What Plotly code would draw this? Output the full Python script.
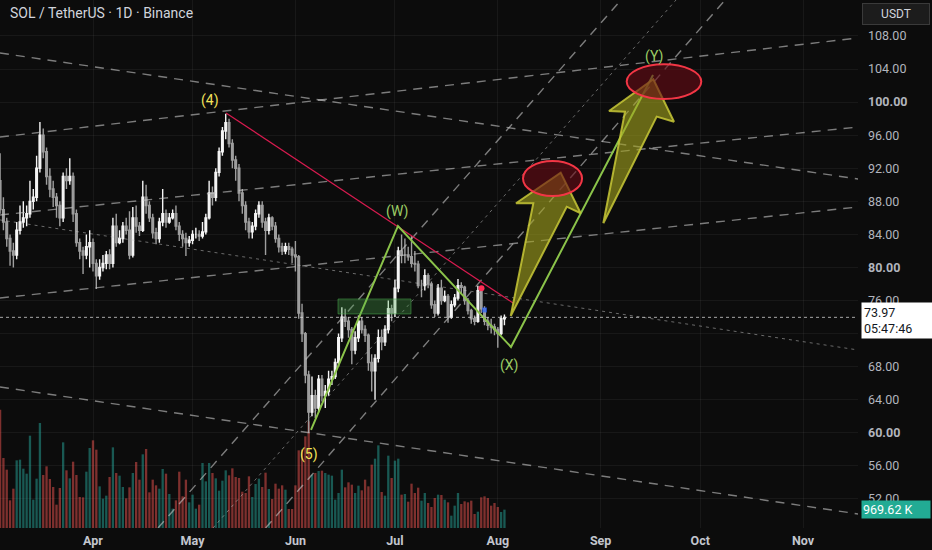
import pandas as pd
import plotly.graph_objects as go

# ---------------- data ----------------
dates = pd.date_range("2025-03-04", "2025-08-03", freq="D")

opens = [
    # Mar 4-31
    90.5, 87, 85.5, 83.5, 82, 81.5, 84.5, 85.5, 86, 86.5, 88, 88.5, 92, 96, 94, 91, 89.5, 88.5, 87.5, 86,
    91, 90.5, 91, 86.5, 83, 82, 81.5, 82.5,
    # Apr
    83, 80.5, 79, 80, 80.5, 81.5, 80.5, 85, 83, 83.5, 85, 84.5, 81.5, 86, 85, 84.5, 88.5, 87.5, 86, 84.2,
    83.5, 85.5, 86.5, 85.5, 86, 86.5, 85, 84, 83.5, 83,
    # May
    83.3, 84, 84, 83.8, 84.3, 86, 89, 88.5, 91.5, 94, 96.5, 97.5, 95, 93, 92, 89, 87.5, 85.5, 84.3, 85,
    86.5, 87.5, 85.5, 84.5, 86, 85, 83.5, 82.5, 82, 82.5, 82.2,
    # Jun
    81.5, 81.3, 74.5, 72, 67, 62.5, 64.5, 63, 66.5, 64.5, 65, 66.5, 66.8, 68.5, 71.5, 74, 73.5, 72.5, 70, 71.5,
    73.5, 72.5, 71.8, 68.5, 67.5, 69, 71.5, 71, 72.5, 75,
    # Jul
    74.5, 77.5, 82, 81.5, 81.5, 81.3, 80.5, 80.4, 77.8, 77.8, 79, 78, 75.5, 74.5, 77.5, 76, 76.5, 74, 75.5, 76.3,
    77.8, 77.6, 76, 74.8, 73.8, 73.5, 77.2, 75, 73.5, 73, 72.8,
    # Aug
    72.5, 72, 73.8,
]
closes = [
    87, 85.5, 83.5, 82, 81.5, 84.5, 85.5, 86, 86.5, 88, 88.5, 92, 96, 94, 91, 89.5, 88.5, 87.5, 86, 91,
    90.5, 91, 86.5, 83, 82, 81.5, 82.5, 83,
    80.5, 79, 80, 80.5, 81.5, 80.5, 85, 83, 83.5, 85, 84.5, 81.5, 86, 85, 84.5, 88.5, 87.5, 86, 84.2, 83.5,
    85.5, 86.5, 85.5, 86, 86.5, 85, 84, 83.5, 83, 83.3,
    84, 84, 83.8, 84.3, 86, 89, 88.5, 91.5, 94, 96.5, 97.5, 95, 93, 92, 89, 87.5, 85.5, 84.3, 85, 86.5,
    87.5, 85.5, 84.5, 86, 85, 83.5, 82.5, 82, 82.5, 82.2, 81.5,
    81.3, 74.5, 72, 67, 62.5, 64.5, 63, 66.5, 64.5, 65, 66.5, 66.8, 68.5, 71.5, 74, 73.5, 72.5, 70, 71.5, 73.5,
    72.5, 71.8, 68.5, 67.5, 69, 71.5, 71, 72.5, 75, 74.5,
    77.5, 82, 81.5, 81.5, 81.3, 80.5, 80.4, 77.8, 77.8, 79, 78, 75.5, 74.5, 77.5, 76, 76.5, 74, 75.5, 76.3, 77.8,
    77.6, 76, 74.8, 73.8, 73.5, 77.2, 75, 73.5, 73, 72.8, 72.5,
    72, 73.8, 73.97,
]
highs = [
    93.8, 88.5, 86, 84, 83, 85.5, 87.5, 88, 87.5, 90.5, 89.5, 93.5, 97.6, 96.8, 94.5, 92, 90.5, 89, 88, 91.5,
    92, 93.2, 91.5, 87, 83.5, 82.5, 84, 84.5,
    83.5, 81, 81, 81.5, 82, 82.2, 86, 86.5, 84.5, 85.5, 86, 86.8, 87.3, 87.5, 85.5, 90.5, 90, 88, 86.5, 84.8,
    86, 89.5, 87, 86.6, 87, 87.5, 85.5, 84.5, 84.2, 83.8,
    84.5, 84.8, 84.5, 85.5, 86.5, 90.5, 89.8, 92, 94.5, 97, 98.6, 98, 95.5, 93.5, 92.5, 89.5, 88, 86, 85.5, 87,
    88, 88, 86, 86.5, 86.2, 85.5, 84, 83, 83, 83, 82.5,
    83.2, 81.5, 75.6, 72.2, 67.5, 66.8, 65.2, 67, 67, 65.8, 67.5, 67.5, 69, 72, 75.2, 75, 74, 72.8, 72.3, 74.2,
    74, 73, 72, 69.5, 69.5, 72.5, 72.5, 73, 76, 75.5,
    78.5, 82.5, 84, 83.5, 82.5, 83.8, 82, 80.8, 78.5, 79.8, 79.3, 78.3, 76, 78, 78.5, 77.2, 76.8, 76, 76.8, 78.6,
    78.2, 77.8, 76.3, 75, 74.2, 77.8, 77.4, 75.3, 74, 73.8, 73.2,
    72.8, 74.2, 74.3,
]
lows = [
    86.5, 84.5, 82.5, 80.2, 80, 81, 84, 84.8, 85, 86, 87, 88, 91.5, 93.2, 90, 88.5, 87.3, 86, 85, 85.5,
    89.5, 90, 85.5, 82.5, 81, 79.2, 81, 80,
    79.5, 77.4, 78.5, 79.5, 79.8, 79.8, 80, 82.5, 82.8, 83, 84, 81, 81.2, 84.2, 83.8, 84.3, 86.5, 85.5, 83.5, 82.8,
    83, 85, 84.8, 85.3, 85.8, 84.5, 83.2, 82.5, 81.4, 82.5,
    82.8, 83.5, 83.2, 83.5, 84, 85.8, 87.5, 88, 91, 93.5, 95.5, 94.5, 92, 90.5, 88, 86.5, 84.5, 83.5, 83.5, 84.5,
    86, 84.8, 81.5, 84, 84.5, 83, 81.8, 81.5, 81.6, 81.5, 80.5,
    79.5, 73.8, 71, 66, 60, 62, 61.8, 62.5, 63.8, 63, 64.5, 65.8, 66.5, 68, 71, 72.8, 71.5, 68.3, 69.5, 71,
    72, 71, 67.5, 65, 64, 68.5, 70, 70.5, 72, 73.5,
    74, 77, 80.5, 80.5, 80.8, 80, 79.5, 77.5, 76.4, 77.2, 77.5, 75, 74, 74.2, 75.5, 75.8, 73.3, 73.8, 75.2, 76,
    76.8, 75.5, 74.3, 73.2, 73, 73.3, 74.5, 73, 72.4, 72, 71.8,
    70.3, 71.8, 73,
]
# volume, thousands of SOL
volumes_k = [
    6248, 3696, 3080, 1461, 2077, 3573, 3608, 3133, 2869, 4875,
    1496, 2605, 5544, 2798, 3256, 2587, 2165, 1232, 2112, 4523,
    3045, 2622, 3502, 2798, 1637, 1619, 2974, 4224, 4629, 4136,
    2200, 1549, 1707, 2693, 4259, 2904, 2763, 2165, 1566, 2147,
    2904, 3485, 2552, 3890, 4171, 1883, 2552, 2253, 2077, 3115,
    2869, 1795, 1021, 1461, 2974, 1672, 2552, 1355, 1760, 1021,
    1232, 3432, 2464, 3432, 2904, 2622, 1971, 2499, 3045, 2781,
    3150, 2693, 2640, 1918, 1848, 2728, 1637, 2323, 2605, 2165, 2922,
    2059, 1531, 2341, 2077, 2253, 2024, 1003, 1003, 2253, 4101,
    4136, 4840, 5632, 2816, 2904, 3010, 3027, 2904, 2816, 2763,
    1496, 1848, 3080, 2147, 2411, 2288, 1848, 2235, 1989, 2552,
    2200, 3344, 3661, 4365, 1901, 1707, 3819, 2640, 3555, 3661,
    1760, 1795, 1390, 2341, 1848, 2130, 1443, 1848, 1320, 1109,
    1584, 1760, 1742, 1496, 1355, 651, 1179, 1848, 1267, 1408,
    1355, 1443, 739, 862, 1619, 1672, 1584, 1179, 1320, 1109, 845, 969.62,
]
last_price = 73.97
countdown = "05:47:46"

price_ticks = [52, 56, 60, 64, 68, 72, 76, 80, 84, 88, 92, 96, 100, 104, 108]
bold_ticks = [60, 80, 100]
month_ticks = ["2025-04-01", "2025-05-01", "2025-06-01", "2025-07-01",
               "2025-08-01", "2025-09-01", "2025-10-01", "2025-11-01"]
month_labels = ["Apr", "May", "Jun", "Jul", "Aug", "Sep", "Oct", "Nov"]

# ---------------- drawings (anchors in date / price) ----------------
wide_dashed = [
    [("2025-03-03 23:00", 105.94), ("2025-11-17 14:00", 90.70)],
    [("2025-03-03 23:00", 95.78), ("2025-11-17 14:00", 107.76)],
    [("2025-03-03 23:00", 86.35), ("2025-11-17 14:00", 96.99)],
    [("2025-03-03 23:00", 76.31), ("2025-11-17 14:00", 87.32)],
    [("2025-03-03 23:00", 65.55), ("2025-11-17 14:00", 50.19)],
    [("2025-04-20 14:00", 48.49), ("2025-09-07 03:00", 112.35)],
    [("2025-05-23 00:30", 48.49), ("2025-10-08 12:00", 112.35)],
]
fine_dashed = [
    [("2025-03-03 23:00", 85.75), ("2025-11-17 14:00", 70.02)],
    [("2025-05-07 04:00", 48.49), ("2025-09-23 17:00", 112.35)],
]
red_line = [("2025-05-11 02:00", 98.69), ("2025-08-05 14:00", 75.71)]
wave_path = [("2025-06-05 17:00", 60.35), ("2025-07-01 22:00", 85.02),
             ("2025-08-04 23:30", 70.39), ("2025-09-16 18:40", 103.28)]
zone_box = [("2025-06-13 20:10", 74.38), ("2025-07-05 20:10", 76.19)]
arrow_1 = [("2025-08-04 21:20", 74.13), ("2025-08-11 16:50", 87.77), ("2025-08-06 11:45", 87.77),
           ("2025-08-19 23:00", 91.47), ("2025-08-25 23:45", 86.56), ("2025-08-21 18:30", 87.35),
           ("2025-08-04 21:20", 74.13)]
arrow_2 = [("2025-09-01 19:10", 85.35), ("2025-09-08 08:10", 98.84), ("2025-09-03 12:30", 98.93),
           ("2025-09-16 21:00", 102.76), ("2025-09-23 02:40", 97.63), ("2025-09-17 21:20", 98.24),
           ("2025-09-01 19:10", 85.35)]
target_ellipses = [[("2025-08-08 14:20", 88.65), ("2025-08-26 09:30", 92.88)],
                   [("2025-09-08 20:20", 100.38), ("2025-10-01 08:00", 104.58)]]
wave_labels = [("(4)", "2025-05-06 06:00", 100.14, "#f2e35a"),
               ("(5)", "2025-06-05 02:00", 57.32, "#f2e35a"),
               ("(W)", "2025-07-01 14:00", 86.83, "#9ccc65"),
               ("(X)", "2025-08-04 09:30", 68.09, "#9ccc65"),
               ("(Y)", "2025-09-17 02:00", 105.46, "#9ccc65")]
red_mark = ("2025-07-27 02:00", 77.48)
blue_mark = ("2025-07-28 00:00", 74.86)

X_RANGE = ["2025-03-03 23:17", "2025-11-17 13:26"]
P_RANGE = [48.49, 112.35]
V_RANGE = [0, 27880]

BG = "#0c0c0c"
GRID = "rgba(255,255,255,0.05)"
TXT = "#b2b5be"

fig = go.Figure()

# volume (primary y, hidden)
vol_colors = ["rgba(38,166,154,0.5)" if c >= o else "rgba(239,83,80,0.5)"
              for o, c in zip(opens, closes)]
fig.add_trace(go.Bar(x=dates, y=volumes_k, marker_color=vol_colors, marker_line_width=0,
                     yaxis="y", hoverinfo="skip"))


def seg(pts):
    return [p[0] for p in pts], [p[1] for p in pts]


for pts in wide_dashed:
    xs, ys = seg(pts)
    fig.add_trace(go.Scatter(x=xs, y=ys, mode="lines", yaxis="y2", hoverinfo="skip",
                             line=dict(color="rgba(200,200,200,0.6)", width=1.4, dash="9px,7px")))
for pts in fine_dashed:
    xs, ys = seg(pts)
    fig.add_trace(go.Scatter(x=xs, y=ys, mode="lines", yaxis="y2", hoverinfo="skip",
                             line=dict(color="rgba(200,200,200,0.5)", width=1, dash="3px,4px")))

# candles
fig.add_trace(go.Candlestick(
    x=dates, open=opens, high=highs, low=lows, close=closes, yaxis="y2",
    increasing=dict(line=dict(color="#f5f5f5", width=1.4), fillcolor="#f5f5f5"),
    decreasing=dict(line=dict(color="#9e9e9e", width=1.4), fillcolor="#9e9e9e"),
    whiskerwidth=0, hoverinfo="skip"))

# red trend line
xs, ys = seg(red_line)
fig.add_trace(go.Scatter(x=xs, y=ys, mode="lines", yaxis="y2", hoverinfo="skip",
                         line=dict(color="#d81b4f", width=1.2)))
# wave path
xs, ys = seg(wave_path)
fig.add_trace(go.Scatter(x=xs, y=ys, mode="lines", yaxis="y2", hoverinfo="skip",
                         line=dict(color="#8bc34a", width=2)))
# arrows
for pts in (arrow_1, arrow_2):
    xs, ys = seg(pts)
    fig.add_trace(go.Scatter(x=xs, y=ys, mode="lines", yaxis="y2", hoverinfo="skip", fill="toself",
                             fillcolor="rgba(165,165,30,0.6)",
                             line=dict(color="rgba(200,200,55,0.85)", width=2)))
# small marks
fig.add_trace(go.Scatter(x=[red_mark[0]], y=[red_mark[1]], mode="markers", yaxis="y2", hoverinfo="skip",
                         marker=dict(symbol="circle", size=6, color="#ff2d55")))
fig.add_trace(go.Scatter(x=[blue_mark[0]], y=[blue_mark[1]], mode="markers", yaxis="y2", hoverinfo="skip",
                         marker=dict(symbol="square", size=5, color="rgba(41,98,255,0.7)")))

shapes = []
shapes.append(dict(type="rect", xref="x", yref="y2", x0=zone_box[0][0], x1=zone_box[1][0],
                   y0=zone_box[0][1], y1=zone_box[1][1], fillcolor="rgba(76,175,80,0.3)",
                   line=dict(color="rgba(76,175,80,0.5)", width=1), layer="above"))
for e in target_ellipses:
    shapes.append(dict(type="circle", xref="x", yref="y2", x0=e[0][0], x1=e[1][0],
                       y0=e[0][1], y1=e[1][1], fillcolor="rgba(105,12,22,0.6)",
                       line=dict(color="#f23645", width=2), layer="above"))
shapes.append(dict(type="line", xref="paper", yref="y2", x0=0, x1=1, y0=last_price, y1=last_price,
                   line=dict(color="rgba(220,220,220,0.75)", width=1, dash="dot"), layer="above"))

annotations = []
for txt, d, p, col in wave_labels:
    annotations.append(dict(x=d, y=p, xref="x", yref="y2", text=txt, showarrow=False,
                            font=dict(size=14, color=col, family="Roboto")))
annotations.append(dict(xref="paper", yref="paper", x=0, y=1, xanchor="left", yanchor="top",
                        xshift=8, yshift=-3, showarrow=False,
                        text="SOL / TetherUS · 1D · Binance",
                        font=dict(size=14, color="#d1d4dc", family="Roboto")))
annotations.append(dict(xref="paper", yref="paper", x=1, y=1, xanchor="left", yanchor="top",
                        xshift=4, yshift=-3, showarrow=False, text="USDT", width=62, height=16,
                        bgcolor="#1c1c1c", bordercolor="#3a3a3a", borderwidth=1, borderpad=2,
                        font=dict(size=12, color="#d1d4dc", family="Roboto")))
annotations.append(dict(xref="paper", yref="y2", x=1, y=last_price, xanchor="left", yanchor="middle",
                        xshift=3, yshift=-3, showarrow=False, align="left", width=66,
                        text=f"{last_price:.2f}<br>{countdown}", bgcolor="#ffffff", borderpad=2,
                        font=dict(size=12.5, color="#131722", family="Roboto")))
annotations.append(dict(xref="paper", yref="y", x=1, y=volumes_k[-1], xanchor="left", yanchor="middle",
                        xshift=3, showarrow=False, align="left", width=66,
                        text=f"{volumes_k[-1]:.2f} K", bgcolor="#22ab94", borderpad=1,
                        font=dict(size=12.5, color="#ffffff", family="Roboto")))

ticktext = [f"<b>{v:.2f}</b>" if v in bold_ticks else f"{v:.2f}" for v in price_ticks]

fig.update_layout(
    width=932, height=550, margin=dict(l=0, r=74, t=0, b=22),
    paper_bgcolor=BG, plot_bgcolor=BG, showlegend=False, bargap=0.3,
    font=dict(family="Roboto", color=TXT, size=12),
    shapes=shapes, annotations=annotations,
    xaxis=dict(type="date", range=X_RANGE, rangeslider=dict(visible=False),
               tickvals=month_ticks, ticktext=[f"<b>{m}</b>" for m in month_labels],
               showgrid=True, gridcolor=GRID, zeroline=False, showline=False, ticks="",
               ticklabelstandoff=3, tickfont=dict(size=12.5, color="#c3c6ce"), fixedrange=True),
    yaxis=dict(range=V_RANGE, visible=False, showgrid=False, fixedrange=True),
    yaxis2=dict(range=P_RANGE, overlaying="y", side="right", anchor="x",
                tickvals=price_ticks, ticktext=ticktext, showgrid=True, gridcolor=GRID,
                zeroline=False, showline=False, ticks="", ticklabelstandoff=9,
                tickfont=dict(size=12.5, color=TXT), fixedrange=True),
)

fig.write_html("out.html", config={"displayModeBar": False},
               post_script="document.body.style.margin='0';document.body.style.background='#0c0c0c';")
